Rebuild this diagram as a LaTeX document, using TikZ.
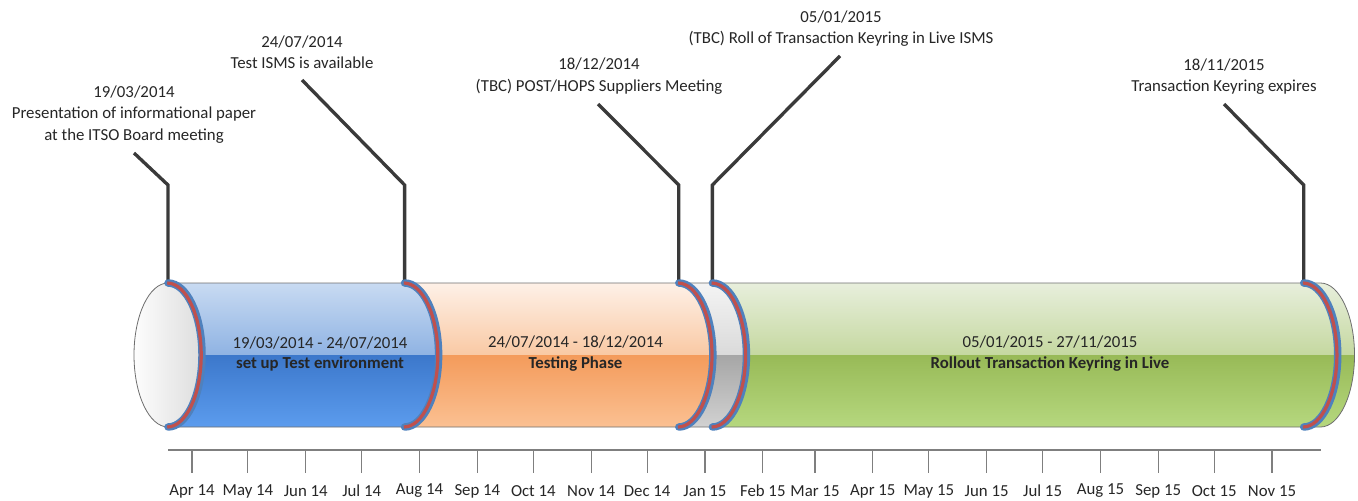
\documentclass[tikz,border=0pt]{standalone}
\usepackage{fontspec}
\setmainfont{Carlito}
\definecolor{txt}{HTML}{262626}
\definecolor{leadc}{HTML}{3A3A3A}
\definecolor{ringblue}{HTML}{4F81BD}
\definecolor{ringred}{HTML}{C0504D}
\definecolor{outc}{HTML}{6E6E6E}
\definecolor{axc}{HTML}{7F7F7F}
\definecolor{bA}{HTML}{C9DBF2}\definecolor{bB}{HTML}{8FB3E3}\definecolor{bC}{HTML}{3C78CB}\definecolor{bD}{HTML}{5C9CEE}
\definecolor{oA}{HTML}{FEF1E8}\definecolor{oB}{HTML}{F9C9A4}\definecolor{oC}{HTML}{F49B5B}\definecolor{oD}{HTML}{FBC193}
\definecolor{gA}{HTML}{F4F4F4}\definecolor{gB}{HTML}{DADADA}\definecolor{gC}{HTML}{A6A6A6}\definecolor{gD}{HTML}{D2D2D2}
\definecolor{vA}{HTML}{E8EFDD}\definecolor{vB}{HTML}{C5D8A0}\definecolor{vC}{HTML}{98BA57}\definecolor{vD}{HTML}{B6D87F}
\newcommand\cylseg[6]{%
  \begin{scope}
    \clip (#1,283) -- (#2,283) arc[start angle=-90,end angle=90,x radius=34,y radius=72]
      -- (#1,427) arc[start angle=90,end angle=-90,x radius=34,y radius=72] -- cycle;
    \shade[top color=#3,bottom color=#4] (#1-5,282) rectangle (#2+40,355);
    \shade[top color=#5,bottom color=#6] (#1-5,355) rectangle (#2+40,428);
  \end{scope}}
\newcommand\cylring[1]{%
  \draw[ringo] (#1,283) arc[start angle=-90,end angle=90,x radius=34,y radius=72];
  \draw[ringi] (#1-0.8,283) arc[start angle=-90,end angle=90,x radius=34,y radius=72];}
\begin{document}
\begin{tikzpicture}[x=0.75pt,y=-0.75pt,
  every node/.style={inner sep=0pt,text=txt},
  lbl/.style={font=\fontsize{12.6}{16}\selectfont,align=center},
  seglbl/.style={font=\fontsize{12.6}{15.7}\selectfont,align=center},
  leader/.style={draw=leadc,line width=2.5pt},
  ringo/.style={draw=ringblue,line width=5.6pt,line cap=round},
  ringi/.style={draw=ringred,line width=2.4pt},
  outl/.style={draw=outc,line width=0.6pt},
  axisl/.style={draw=axc,line width=0.8pt}]
\useasboundingbox (0,0) rectangle (1358,500);

% milestone texts
\node[lbl] (t1) at (134,114.5) {19/03/2014\\Presentation of informational paper\\at the ITSO Board meeting};
\node[lbl] (t2) at (302,52.5) {24/07/2014\\Test ISMS is available};
\node[lbl] (t3) at (599,76) {18/12/2014\\(TBC) POST/HOPS Suppliers Meeting};
\node[lbl] (t4) at (841,28.5) {05/01/2015\\(TBC) Roll of Transaction Keyring in Live ISMS};
\node[lbl] (t5) at (1224,76.5) {18/11/2015\\Transaction Keyring expires};

% leader coordinates
\coordinate (s1) at (134,153);   \coordinate (k1) at (168,185);   \coordinate (m1) at (168,284);
\coordinate (s2) at (302,80);    \coordinate (k2) at (404.6,185); \coordinate (m2) at (404.6,284);
\coordinate (s3) at (598,104);   \coordinate (k3) at (678.8,185); \coordinate (m3) at (678.8,284);
\coordinate (s4) at (840,56);    \coordinate (k4) at (712.4,185); \coordinate (m4) at (712.4,284);
\coordinate (s5) at (1224,104);  \coordinate (k5) at (1303.7,185);\coordinate (m5) at (1303.7,284);
\foreach \i in {1,...,5} {\draw[leader] (s\i) -- (k\i) -- (m\i);}

% cylinder body
\cylseg{168}{404.6}{bA}{bB}{bC}{bD}
\cylseg{404.6}{678.8}{oA}{oB}{oC}{oD}
\cylseg{678.8}{712.4}{gA}{gB}{gC}{gD}
\cylseg{712.4}{1320.5}{vA}{vB}{vC}{vD}
% left face
\begin{scope}
  \clip (168,355) ellipse[x radius=34,y radius=72];
  \shade[left color=white,right color=black!14] (130,280) rectangle (205,430);
\end{scope}
\draw[outl] (168,355) ellipse[x radius=34,y radius=72];
% outline
\draw[outl] (168,283) -- (1320.5,283) arc[start angle=-90,end angle=90,x radius=34,y radius=72] -- (168,427);
% rings
\cylring{168}
\cylring{404.6}
\cylring{678.8}
\cylring{712.4}
\cylring{1303.7}

% segment labels
\node[seglbl] (p1) at (320,354) {19/03/2014 - 24/07/2014\\\textbf{set up Test environment}};
\node[seglbl] (p2) at (575.5,354) {24/07/2014 - 18/12/2014\\\textbf{Testing Phase}};
\node[seglbl] (p3) at (1050,354) {05/01/2015 - 27/11/2015\\\textbf{Rollout Transaction Keyring in Live}};

% axis
\coordinate (a0) at (168,450);
\coordinate (a1) at (1320.5,450);
\draw[axisl] (a0) -- (a1);
\foreach \x/\l [count=\i] in {192/Apr 14,247.96/May 14,305.78/Jun 14,361.74/Jul 14,419.57/Aug 14,477.39/Sep 14,533.35/Oct 14,591.17/Nov 14,647.13/Dec 14,704.96/Jan 15,762.78/Feb 15,815.01/Mar 15,872.83/Apr 15,928.79/May 15,986.62/Jun 15,1042.58/Jul 15,1100.40/Aug 15,1158.22/Sep 15,1214.18/Oct 15,1272/Nov 15}
{
  \coordinate (tk\i) at (\x,450);
  \coordinate (tb\i) at (\x,473);
  \draw[axisl] (tk\i) -- (tb\i);
  \node[lbl] (ml\i) at (\x,491) {\l};
}
\end{tikzpicture}
\end{document}
